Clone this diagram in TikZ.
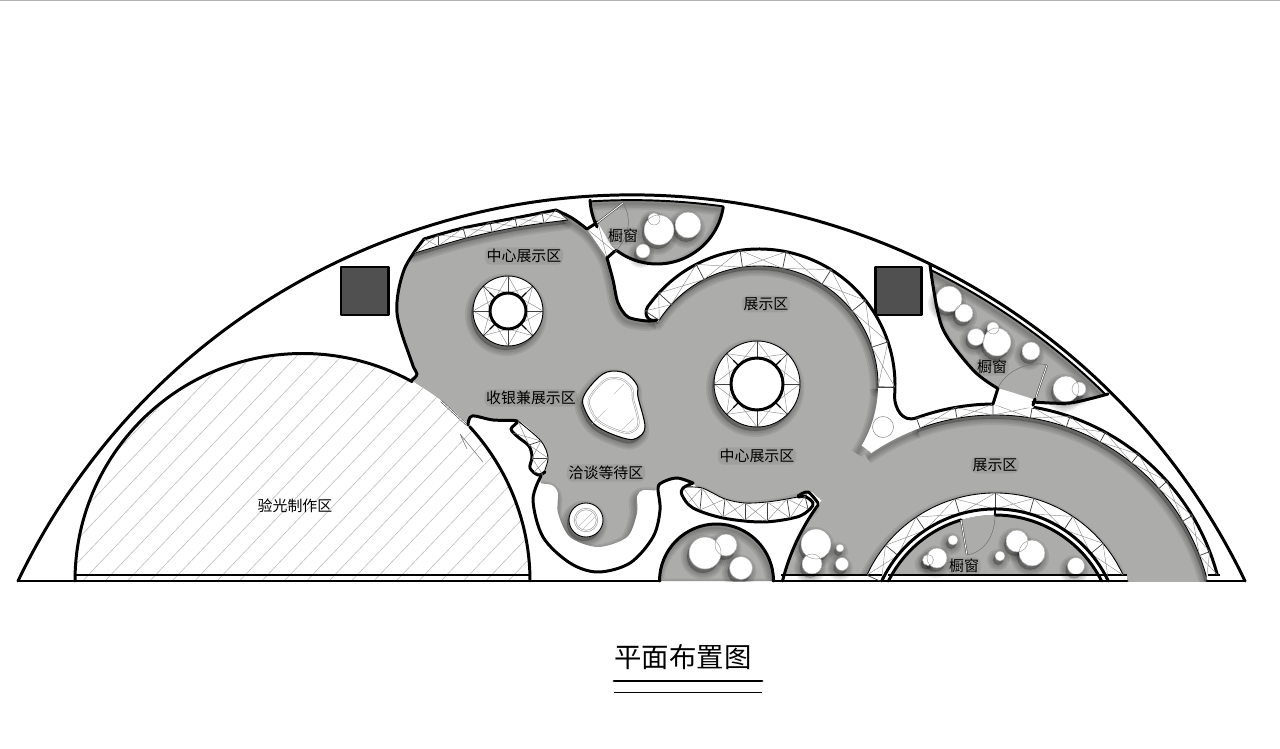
\documentclass[tikz,border=0pt]{standalone}
\usepackage{fontspec}
\setmainfont{Noto Sans CJK SC}
\usetikzlibrary{positioning}
\tikzstyle{planView} = [x = .02cm, y = .02cm, yscale = -1]
\definecolor{roomGray}{RGB}{172,172,171}
\definecolor{columnGray}{RGB}{80,80,80}
\tikzstyle{wall} = [color=black, line width=1.7pt, line cap=round, line join=round]
\tikzstyle{midWall} = [color=black, line width=1.1pt]
\tikzstyle{thinEdge} = [color=black, line width=.5pt]
\tikzstyle{cellLine} = [color=black!75, line width=.4pt]
\tikzstyle{crossLine} = [color=black!45, line width=.25pt]
\tikzstyle{swingLine} = [color=black!55, line width=.3pt]
\tikzstyle{doorLeaf} = [color=black!70, line width=.35pt, double=white, double distance=.45pt]
\tikzstyle{hatchLine} = [color=black!25, line width=.35pt]
\tikzstyle{shadowLayer} = [draw=black, opacity=.07, line join=round, transform canvas={shift={(-1.1pt,-2.2pt)}}]
\tikzstyle{softShadow} = [preaction={shadowLayer, fill=black, line width=7pt}, preaction={shadowLayer, fill=black, line width=5pt}, preaction={shadowLayer, fill=black, line width=3pt}, preaction={shadowLayer, fill=black, line width=1pt}]
\tikzstyle{softLine} = [preaction={shadowLayer, line width=7pt}, preaction={shadowLayer, line width=5pt}, preaction={shadowLayer, line width=3pt}, preaction={shadowLayer, line width=1pt}]
\tikzstyle{roomLabel} = [font=\fontsize{8.5pt}{10pt}\selectfont, inner sep=1pt, fill=black, fill opacity=.07, text opacity=1, rounded corners=3pt]
\tikzstyle{plainLabel} = [font=\fontsize{8.5pt}{10pt}\selectfont, inner sep=1pt]
\newcommand{\grayZone}{
  (995,634) circle[radius=219]
  (759,385) circle[radius=119]
  (862,446) -- (870,452) -- (885,480) -- (820,500) -- (800,420) -- cycle
  plot[smooth cycle, tension=.5] coordinates {(424,239) (463,228) (515,218) (556,210) (587,229) (607,258) (618,303) (628,317) (647,321) (665,330) (720,420) (780,450) (825,480) (820,498) (812,492) (807,493) (787,499) (767,502) (745,503) (725,499) (702,490) (693,483) (677,478) (663,482) (657,490) (643,490) (637,496) (637,513) (627,537) (598,547) (570,537) (558,513) (558,493) (552,485) (541,483) (541,476) (548,458) (541,441) (520,422) (493,420) (472,416) (468,423) (440,400) (412,380) (417,374) (412,363) (397,313) (404,270)}
}
\newcommand{\topBand}{([shift={(759,385)}]213:136) arc[start angle=213, end angle=361, radius=136] -- ([shift={(759,385)}]361:119) arc[start angle=361, end angle=213, radius=119] -- cycle}
\newcommand{\sweepBand}{([shift={(995,634)}]250:230) arc[start angle=250, end angle=345, radius=230] -- ([shift={(995,634)}]345:219) arc[start angle=345, end angle=250, radius=219] -- cycle}
\newcommand{\archBand}{([shift={(995,634)}]204.7:141) arc[start angle=204.7, end angle=335.3, radius=141] -- ([shift={(995,634)}]335.3:119) arc[start angle=335.3, end angle=204.7, radius=119] -- cycle}
\newcommand{\northBand}{(424,239) -- (463,228) -- (515,218) -- (556,210) -- (568,220) -- (544,223) -- (517,227) -- (492,232) -- (466,238) -- (438,246) -- (415,253) -- cycle}
\newcommand{\southBand}{plot[smooth cycle, tension=.5] coordinates {(683,487) (702,488) (725,499) (745,503) (767,502) (787,499) (807,495) (815,504) (797,517) (763,522) (723,518) (693,508) (682,495)}}
\newcommand{\curlBand}{plot[smooth cycle, tension=.5] coordinates {(518,421) (541,441) (548,458) (543,475) (535,476) (530,468) (532,457) (529,446) (518,437) (511,430)}}
\newcommand{\islandOutline}{plot[smooth cycle, tension=.6] coordinates {(583,398) (593,383) (607,372) (625,373) (637,385) (638,397) (645,427) (637,438) (627,439) (607,432) (593,423) (585,410)}}
\newcommand{\topWindow}{([shift={(631.5,875.6)}]266.6:676) arc[start angle=266.6, end angle=277.8, radius=676] -- ([shift={(657,197)}]8.6:67) arc[start angle=8.6, end angle=177.4, radius=67] -- cycle}
\newcommand{\sideWindow}{([shift={(631.5,875.6)}]296.3:676) arc[start angle=296.3, end angle=314.7, radius=676] -- plot[smooth, tension=.5] coordinates {(1070,403) (1033,402) (997,388) (973,370) (942,327) (930,273)} -- cycle}
\newcommand{\domeRoom}{(659.5,581) arc[start angle=180, end angle=360, radius=57] -- cycle}
\newcommand{\shadedRoom}[1]{
  \fill [roomGray] #1;
  \begin{scope}
    \clip #1;
    \path [softLine] #1;
  \end{scope}
}
\newcommand{\shrubs}[1]{
  \foreach \sx/\sy/\sr in {#1} {
    \fill [white, softShadow] (\sx,\sy) circle[radius=\sr];
  }
  \foreach \sx/\sy/\sr in {#1} {
    \fill [white] (\sx,\sy) circle[radius=\sr];
  }
  \foreach \sx/\sy/\sr in {#1} {
    \draw [color=black!40, line width=.25pt] (\sx,\sy) circle[radius=\sr];
  }
}
\newcommand{\crossCells}[1]{
  \foreach \ax/\ay/\bx/\by/\cx/\cy/\dx/\dy in {#1} {
    \draw [crossLine] (\ax,\ay) -- (\dx,\dy) (\bx,\by) -- (\cx,\cy);
    \draw [cellLine] (\cx,\cy) -- (\dx,\dy);
  }
}
\newcommand{\ringCells}[5]{
  \begin{scope}[shift={(#1,#2)}]
    \foreach \ta/\tb in {#5} {
      \draw [crossLine] (\ta:#3) -- (\tb:#4) (\ta:#4) -- (\tb:#3);
      \draw [cellLine] (\ta:#3) -- (\ta:#4);
    }
  \end{scope}
}
\newcommand{\pillarBase}[3]{\fill [white, softShadow] (#1,#2) circle[radius=#3];}
\newcommand{\pillar}[4]{
  \begin{scope}[shift={(#1,#2)}]
    \foreach \ta in {0,45,...,315} {
      \draw [crossLine] (\ta:#3) -- (\ta+45:#4) (\ta:#4) -- (\ta+45:#3);
    }
    \foreach \ta in {0,90,180,270} {
      \draw [cellLine] (\ta:#3) -- (\ta:#4);
    }
    \foreach \ta in {45,135,225,315} {
      \draw [color=black, line width=.7pt] (\ta:#3) -- (\ta:#3*.55+#4*.45);
      \draw [cellLine] (\ta:#3*.55+#4*.45) -- (\ta:#4);
    }
    \draw [thinEdge] (0,0) circle[radius=#4];
    \draw [wall] (0,0) circle[radius=#3];
  \end{scope}
}
\begin{document}
\begin{tikzpicture}[planView]
  \useasboundingbox (0,0) rectangle (1280,749);
  \fill [white] (0,0) rectangle (1280,749);
  \draw [color=black!30, line width=.6pt] (0,.5) -- (1280,.5);

  \shadedRoom{\topWindow}
  \shadedRoom{\sideWindow}
  \shadedRoom{\domeRoom}

  \begin{scope}
    \clip (0,0) rectangle (1280,581);
    \fill [roomGray] \grayZone;
    \clip \grayZone;
    \path [softLine] plot[smooth, tension=.5] coordinates {(556,210) (587,229) (607,258) (618,303) (628,317) (647,321) (657,320)};
    \path [softLine] plot[smooth, tension=.5] coordinates {(541,483) (552,485) (558,493) (558,513) (570,537) (598,547) (627,537) (637,513) (637,496) (643,490) (657,490)};
    \path [softLine] ([shift={(759,385)}]0:119) arc[start angle=0, end angle=33, radius=119];
    \path [softLine] ([shift={(995,634)}]235:219) arc[start angle=235, end angle=250, radius=219];
    \fill [white, softShadow] \topBand;
    \fill [white, softShadow] \sweepBand;
    \fill [white, softShadow] \archBand;
    \fill [white, softShadow] \northBand;
    \fill [white, softShadow] \southBand;
    \fill [white] \curlBand;
    \fill [white, softShadow] \islandOutline;
    \pillarBase{508}{311}{35}
    \pillarBase{757}{384}{43}
    \fill [white, softShadow] (586,520) circle[radius=17];
    \fill [roomGray] ([shift={(995,634)}]200:119) arc[start angle=200, end angle=340, radius=119] -- cycle;
    \fill [white] (781,575) rectangle (881,581);
    \fill [white] (888,575) rectangle (1127,581);
  \end{scope}

  \fill [white] (75,581) arc[start angle=180, end angle=360, radius=227.5] -- cycle;
  \begin{scope}
    \clip (75,581) arc[start angle=180, end angle=360, radius=227.5] -- cycle;
    \foreach \hatch in {-11,...,19} {
      \draw [hatchLine] (105+22.4*\hatch,581) -- (105+22.4*\hatch+218,352);
    }
  \end{scope}

  \begin{scope}
    \clip (0,0) rectangle (1280,581);
    \shrubs{659/230/15, 688/225/13, 654/219/6, 643/251/7}
    \shrubs{949/299/13, 964/313/9, 976/337/8.5, 997/342/14, 993/328/6, 1031/351/9, 1066/389/13, 1079/389/7}
    \shrubs{705/553/16, 726/545/11, 741/568/11.5}
    \shrubs{816/544/15, 812/564/10, 840/548/4, 842/564/6.5}
    \shrubs{953/540/5, 937/558/10, 928/560/5.5, 1017/541/11, 1032/553/13, 1000/556/5, 1076/566/8.5}
  \end{scope}

  \draw [wall] (18,581) arc[start angle=205.65, end angle=334.35, radius=680.6];
  \draw [wall] (75,581) arc[start angle=180, end angle=298.8, radius=227.5];
  \draw [wall] ([shift={(302.5,581)}]317.3:227.5) arc[start angle=317.3, end angle=360, radius=227.5];
  \draw [doorLeaf] (441,401) -- (467,425);
  \draw [swingLine] (460,434) -- (483,462) (460,434) -- (467,449);

  \draw [midWall] (75,575) -- (530,575);
  \draw [wall] (18,581) -- (660,581);
  \draw [wall] (773,581) -- (1127,581);
  \draw [wall] (1207,581) -- (1245,581);
  \draw [midWall] (781,575) -- (882,575) (888,575) -- (1127,575) (1208,575) -- (1220,575);

  \draw [wall] plot[smooth, tension=.55] coordinates {(412,380) (417,374) (412,363) (397,313) (404,270) (424,239)};
  \draw [wall] plot[smooth, tension=.5] coordinates {(424,239) (463,228) (515,218) (556,210)};
  \draw [wall] plot[smooth, tension=.5] coordinates {(556,210) (572,218) (587,229)};
  \draw [wall] plot[smooth, tension=.5] coordinates {(607,258) (613,280) (618,303) (628,317) (647,321) (657,320)};
  \draw [thinEdge] (415,253) -- (438,246) -- (466,238) -- (492,232) -- (517,227) -- (544,223) -- (568,220);
  \crossCells{424/239/415/253/438/235/438/246, 438/235/438/246/463/228/466/238, 463/228/466/238/490/222/492/232, 490/222/492/232/515/218/517/227, 515/218/517/227/542/213/544/223, 542/213/544/223/556/210/568/220}

  \draw [wall] (657,320) .. controls (648,323) and (641,313) .. ([shift={(759,385)}]217:136) arc[start angle=217, end angle=365, radius=136] .. controls (895,408) and (902,423) .. ([shift={(995,634)}]250:230) arc[start angle=250, end angle=269.5, radius=230];
  \draw [wall] ([shift={(995,634)}]279.3:230) arc[start angle=279.3, end angle=345, radius=230];
  \draw [thinEdge] ([shift={(995,634)}]269.5:230) arc[start angle=269.5, end angle=279.3, radius=230];
  \draw [thinEdge] ([shift={(759,385)}]213:119) arc[start angle=213, end angle=361, radius=119] -- ([shift={(759,385)}]361:136);
  \ringCells{759}{385}{119}{136}{213/222.5, 222.5/242.5, 242.5/262, 262/281.5, 281.5/302, 302/321.5, 321.5/341.5, 341.5/361}
  \draw [cellLine] ([shift={(759,385)}]361:119) -- ([shift={(759,385)}]361:136);
  \draw [thinEdge] ([shift={(995,634)}]250:219) arc[start angle=250, end angle=345, radius=219];
  \ringCells{995}{634}{219}{230}{250/260, 260/269.5, 269.5/279.3, 279.3/289, 289/298.7, 298.7/308.6, 308.6/318.4, 318.4/329, 329/339, 339/345}

  \draw [thinEdge] ([shift={(995,634)}]204.7:141) arc[start angle=204.7, end angle=335.3, radius=141];
  \ringCells{995}{634}{125}{141}{204.7/219, 219/236, 236/253.5, 253.5/270, 270/286, 286/303.5, 303.5/320, 320/335.3}
  \draw [wall] ([shift={(995,634)}]205.1:125) arc[start angle=205.1, end angle=334.9, radius=125];
  \draw [wall] ([shift={(995,634)}]206.45:119) arc[start angle=206.45, end angle=253.5, radius=119];
  \draw [wall] ([shift={(995,634)}]270:119) arc[start angle=270, end angle=333.55, radius=119];
  \draw [midWall] (995,509) -- (995,515);
  \draw [doorLeaf] (961,520) -- (967,555);
  \draw [swingLine] (967,555) .. controls (985,552) and (995,535) .. (995,515);

  \draw [thinEdge] plot[smooth, tension=.5] coordinates {(518,421) (541,441) (548,458) (543,475)};
  \draw [wall] plot[smooth, tension=.55] coordinates {(468,425) (472,416) (493,420) (517,421) (511,429) (518,437) (529,446) (532,457) (530,468) (538,475) (545,472)};
  \crossCells{518/421/513/433/541/441/529/445, 541/441/529/445/548/458/532/458, 548/458/532/458/543/475/534/472}
  \draw [wall] plot[smooth, tension=.55] coordinates {(541,476) (533,500) (543,537) (570,563) (598,572) (630,563) (653,537) (660,510) (658,488) (663,482) (677,478) (693,483)};
  \draw [thinEdge] plot[smooth, tension=.5] coordinates {(683,487) (702,488) (725,499) (745,503) (767,502) (787,499) (807,495)};
  \draw [wall] plot[smooth, tension=.55] coordinates {(693,483) (683,488) (682,495) (693,508) (723,518) (763,522) (797,517) (810,509) (813,503) (806,497) (798,497)};
  \draw [wall] plot[smooth, tension=.55] coordinates {(798,496) (808,492) (818,503)};
  \draw [wall] ([shift={(995,634)}]216.1:219) arc[start angle=216.1, end angle=194, radius=219];
  \crossCells{684/489/688/503/702/488/700/510, 702/488/700/510/725/499/723/517, 725/499/723/517/745/503/745/520, 745/503/745/520/767/502/767/521, 767/502/767/521/787/499/790/518, 787/499/790/518/805/496/808/509}

  \fill [white] (587,229) -- (598,223) -- (615,252) -- (607,258) -- cycle;
  \crossCells{587/229/598/223/607/258/615/252}
  \draw [wall] (587,229) -- (598,222);
  \draw [wall] (607,258) -- (615,251);
  \draw [wall] ([shift={(657,197)}]8.6:67) arc[start angle=8.6, end angle=127.4, radius=67];
  \draw [wall] ([shift={(657,197)}]153.4:67) arc[start angle=153.4, end angle=177.4, radius=67];
  \draw [midWall] ([shift={(631.5,875.6)}]266.6:675.5) arc[start angle=266.6, end angle=277.8, radius=675.5];
  \draw [doorLeaf] (597,223) -- (623,203);
  \draw [swingLine] (623,203) .. controls (632,218) and (630,236) .. (615,252);

  \fill [white] (993,405) -- (998,388) -- (1036,400) -- (1033,408) -- cycle;
  \draw [wall] (993,404) -- (998,388);
  \draw [wall] (1033,405) -- (1035,399);
  \draw [midWall] ([shift={(631.5,875.6)}]296.3:675.5) arc[start angle=296.3, end angle=314.7, radius=675.5];
  \draw [wall] plot[smooth, tension=.5] coordinates {(1033,402) (1070,403) (1108,394)};
  \draw [wall] plot[smooth, tension=.5] coordinates {(997,388) (973,370) (942,327) (930,265)};
  \draw [doorLeaf] (1036,397) -- (1047,365);
  \draw [swingLine] (1047,365) .. controls (1033,361) and (1007,368) .. (998,388);

  \draw [wall] (659.5,581) arc[start angle=180, end angle=360, radius=57];

  \pillar{508}{311}{18}{35}
  \pillar{757}{384}{26}{43}

  \draw [color=black, line width=.6pt] \islandOutline;
  \begin{scope}[shift={(613,406)}, scale=.8, shift={(-613,-406)}]
    \draw [doorLeaf, color=black!35] \islandOutline;
  \end{scope}
  \draw [hatchLine] (592,424) -- (606,410) (614,394) -- (624,384) (622,430) -- (634,418);

  \draw [color=black, line width=.5pt] (586,520) circle[radius=17];
  \draw [doorLeaf, color=black!40] (586,520) circle[radius=11];
  \draw [hatchLine] (578,527) -- (592,513) (582,530) -- (595,517);
  \draw [color=black!45, line width=.3pt] (883,427) circle[radius=10.5];

  \draw [wall, fill=columnGray] (341,267) rectangle (388,315);
  \draw [wall, fill=columnGray] (875,267) rectangle (921,315);

  \node [roomLabel] (centerNorth) at (524,256) {中心展示区};
  \node [roomLabel] (windowTop) at (623,236) {橱窗};
  \node [roomLabel] (displayNorth) at (766,304) {展示区};
  \node [roomLabel] (windowSide) at (992,367) {橱窗};
  \node [roomLabel] (cashier) at (531,398) {收银兼展示区};
  \node [roomLabel] (centerSouth) at (757,456) {中心展示区};
  \node [roomLabel] (talkArea) at (606,473) {洽谈等待区};
  \node [roomLabel] (displaySouth) at (995,465) {展示区};
  \node [plainLabel] (opticsRoom) at (295,506) {验光制作区};
  \node [roomLabel] (windowArch) at (964,566) {橱窗};

  \node [font=\fontsize{15.6pt}{18pt}\selectfont, inner sep=0pt] (planTitle) at (683,657) {平面布置图};
  \draw [wall] (614,681) -- (762,681);
  \draw [color=black, line width=.55pt] (614,692) -- (762,692);
\end{tikzpicture}
\end{document}
